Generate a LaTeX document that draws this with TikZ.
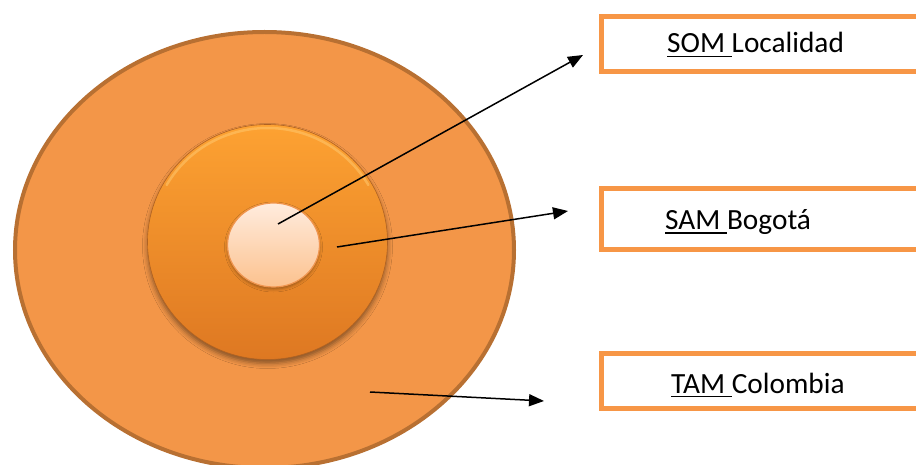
\documentclass[tikz,border=0pt]{standalone}
\usepackage{fontspec}
\setmainfont{Carlito}
\usetikzlibrary{arrows.meta,shapes.geometric,shadows.blur}

\definecolor{tamfill}{RGB}{243,150,72}
\definecolor{tamrim}{RGB}{184,112,50}
\definecolor{samtop}{RGB}{253,162,50}
\definecolor{sambot}{RGB}{222,120,34}
\definecolor{samrim}{RGB}{176,98,34}
\definecolor{samshine}{RGB}{255,200,110}
\definecolor{somtop}{RGB}{255,236,222}
\definecolor{sombot}{RGB}{252,194,142}
\definecolor{somrim}{RGB}{240,150,80}
\definecolor{boxline}{RGB}{247,150,70}

% underline that also covers a trailing space
\newcommand\underword[1]{\setbox0\hbox{#1}\rlap{\rule[-4.2pt]{\wd0}{1.4pt}}\box0}

\tikzset{
  market/.style={ellipse, inner sep=0pt},
  labelbox/.style={draw=boxline, line width=5pt, rectangle, anchor=north west,
    minimum width=360pt, inner sep=0pt},
  labeltext/.style={anchor=base west, inner sep=0pt,
    font=\fontsize{29.3}{35}\selectfont},
  pointer/.style={draw=black, line width=1.5pt,
    -{Triangle[length=15pt,width=12pt]}}
}

\begin{document}
\begin{tikzpicture}[x=1pt,y=-1pt]
\useasboundingbox (0,0) rectangle (916,465);
\clip (0,0) rectangle (916,465);

% total market
\node[market, draw=tamrim, line width=4pt, fill=tamfill,
      minimum width=499pt, minimum height=436pt] (tam) at (264.5,250) {};

% serviceable market (bevelled disc)
\node[market, draw=samrim, line width=0.6pt, top color=samtop, bottom color=sambot,
      blur shadow={shadow xshift=0pt, shadow yshift=-4pt, shadow blur radius=5pt, shadow opacity=45},
      minimum width=240pt, minimum height=235pt] (sam) at (267.5,242) {};
% light bevel along the upper rim
\draw[color=samshine, opacity=0.55, line width=2.5pt, line cap=round]
  ([shift={(150:116.5pt and 114pt)}]sam.center)
  arc[start angle=150, end angle=30, x radius=116.5pt, y radius=114pt];

% obtainable market
\node[market, draw=somrim, line width=1.2pt, top color=somtop, bottom color=sombot,
      blur shadow={shadow xshift=0pt, shadow yshift=-2pt, shadow blur radius=3pt, shadow opacity=35},
      minimum width=92pt, minimum height=84pt] (som) at (273.5,245) {};

% label boxes
\node[labelbox, minimum height=55pt] (somlabel) at (599,14.5) {};
\node[labelbox, minimum height=60.5pt] (samlabel) at (599,186.5) {};
\node[labelbox, minimum height=55.5pt] (tamlabel) at (599,350.5) {};

\node[labeltext] (somtext) at (667,53) {\underword{SOM\ }Localidad};
\node[labeltext] (samtext) at (665,229.5) {\underword{SAM\ }Bogotá};
\node[labeltext] (tamtext) at (671,393) {\underword{TAM\ }Colombia};

% pointers
\coordinate (somfrom) at (278,224);
\coordinate (somto) at (583,55);
\coordinate (samfrom) at (337,247);
\coordinate (samto) at (568,211);
\coordinate (tamfrom) at (370,392);
\coordinate (tamto) at (544,401);

\draw[pointer] (somfrom) -- (somto);
\draw[pointer] (samfrom) -- (samto);
\draw[pointer] (tamfrom) -- (tamto);
\end{tikzpicture}
\end{document}
